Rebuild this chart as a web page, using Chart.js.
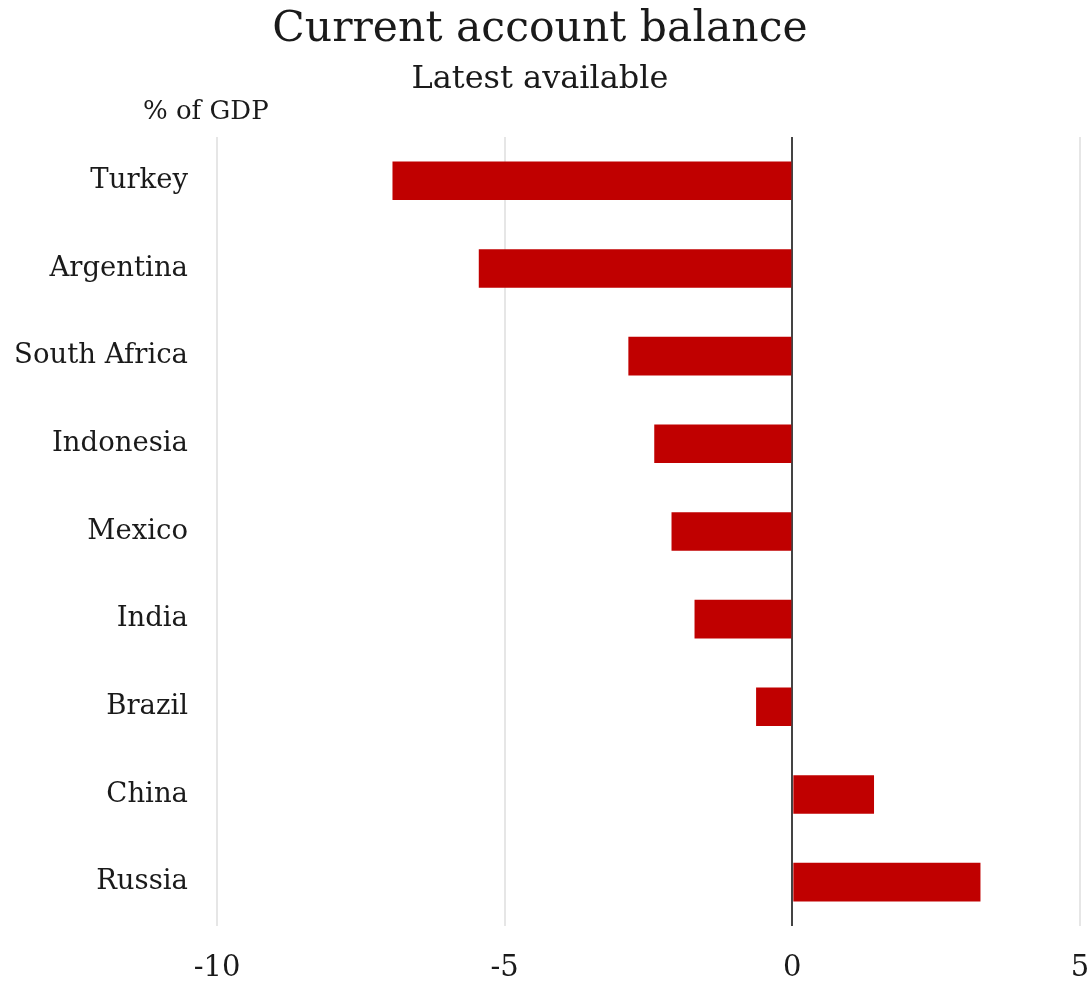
<!DOCTYPE html>
<html>
<head>
<meta charset="utf-8">
<script src="https://cdn.jsdelivr.net/npm/chart.js@4"></script>
<style>
  html, body { margin: 0; padding: 0; background: #fff; }
  #wrap { width: 1089px; height: 983px; }
</style>
</head>
<body>
<div id="wrap"><canvas id="balanceChart"></canvas></div>
<script>
const countries = ['Turkey', 'Argentina', 'South Africa', 'Indonesia', 'Mexico', 'India', 'Brazil', 'China', 'Russia'];
const balance = [-6.95, -5.45, -2.85, -2.4, -2.1, -1.7, -0.63, 1.42, 3.27];
const xTicks = [-10, -5, 0, 5];

const FONT = "'DejaVu Serif', 'Liberation Serif', serif";
const INK = '#1a1a1a';

// unit label above the category axis
const unitLabel = {
    id: 'unitLabel',
    afterDraw(chart) {
        const { ctx } = chart;
        ctx.save();
        ctx.font = `26px ${FONT}`;
        ctx.fillStyle = INK;
        ctx.textAlign = 'left';
        ctx.textBaseline = 'middle';
        ctx.fillText('% of GDP', 143, 112);
        ctx.restore();
    }
};

// keep the plot area edges where we want them, labels may overhang
const noEdgePadding = (scale) => {
    scale.paddingLeft = 0;
    scale.paddingRight = 0;
    scale.paddingTop = 0;
    scale.paddingBottom = 0;
};

new Chart(document.getElementById('balanceChart'), {
    type: 'bar',
    data: {
        labels: countries,
        datasets: [{
            data: balance,
            backgroundColor: '#c00000',
            borderWidth: 0,
            barPercentage: 0.55,
            categoryPercentage: 0.8
        }]
    },
    plugins: [unitLabel],
    options: {
        indexAxis: 'y',
        responsive: true,
        maintainAspectRatio: false,
        animation: false,
        layout: { padding: { left: 0, right: 9, bottom: 0 } },
        plugins: {
            legend: { display: false },
            tooltip: { enabled: false },
            title: {
                display: true,
                text: 'Current account balance',
                color: INK,
                font: { family: FONT, size: 42.5, weight: 'normal' },
                padding: { top: 4, bottom: 5 }
            },
            subtitle: {
                display: true,
                text: 'Latest available',
                color: INK,
                font: { family: FONT, size: 32 },
                padding: { top: 0, bottom: 38.5 }
            }
        },
        scales: {
            x: {
                min: -10,
                max: 5,
                afterBuildTicks: (scale) => { scale.ticks = xTicks.map(v => ({ value: v })); },
                afterFit: (scale) => { noEdgePadding(scale); scale.height = 57; },
                border: { display: false },
                grid: {
                    drawTicks: false,
                    color: (c) => c.tick && c.tick.value === 0 ? '#444444' : '#e6e6e6',
                    lineWidth: 2
                },
                ticks: {
                    color: INK,
                    padding: 25,
                    font: { family: FONT, size: 29 }
                }
            },
            y: {
                border: { display: false },
                grid: { display: false, drawTicks: false },
                afterFit: (scale) => { noEdgePadding(scale); scale.width = 217; },
                ticks: {
                    color: INK,
                    padding: 29,
                    font: { family: FONT, size: 27.5 }
                }
            }
        }
    }
});
</script>
</body>
</html>
